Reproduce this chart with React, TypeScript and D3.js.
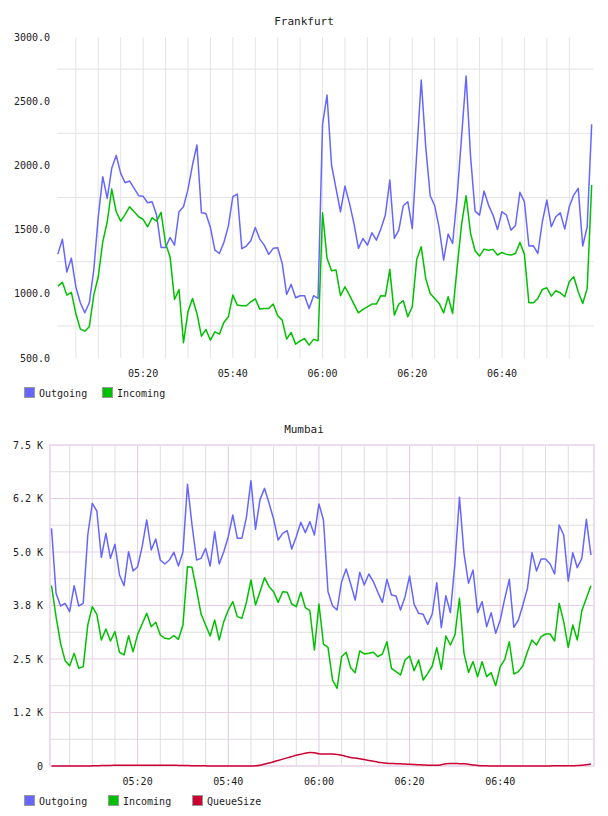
import { useEffect, useRef } from 'react';
import * as d3 from 'd3';

// One sample per minute, 05:01 .. 07:00
const frankfurtOutgoing = [
  1309, 1426, 1169, 1278, 1055, 930, 852, 930, 1185, 1600,
  1912, 1743, 1977, 2078, 1938, 1865, 1878, 1821, 1764, 1759,
  1709, 1717, 1613, 1361, 1361, 1439, 1379, 1639, 1678, 1813,
  2003, 2159, 1631, 1626, 1517, 1340, 1314, 1400, 1527, 1756,
  1777, 1351, 1372, 1413, 1517, 1426, 1379, 1307, 1354, 1359,
  1237, 995, 1073, 969, 985, 985, 886, 985, 964, 2320,
  2548, 2003, 1821, 1639, 1839, 1704, 1548, 1354, 1431, 1379,
  1476, 1418, 1504, 1613, 1886, 1431, 1496, 1686, 1717, 1509,
  2094, 2665, 2146, 1764, 1686, 1514, 1263, 1465, 1392, 1756,
  2224, 2696, 2068, 1644, 1613, 1800, 1691, 1613, 1501, 1639,
  1613, 1496, 1530, 1790, 1717, 1372, 1374, 1314, 1561, 1730,
  1522, 1600, 1631, 1504, 1678, 1769, 1821, 1372, 1522, 2320,
];

const frankfurtIncoming = [
  1060, 1089, 990, 1011, 847, 725, 709, 743, 990, 1133,
  1405, 1561, 1816, 1639, 1566, 1618, 1678, 1639, 1600, 1579,
  1522, 1592, 1566, 1634, 1392, 1289, 956, 1034, 619, 860,
  964, 847, 670, 722, 639, 704, 686, 777, 821, 990,
  912, 907, 907, 938, 961, 881, 886, 886, 920, 829,
  795, 647, 699, 608, 634, 652, 600, 645, 634, 1631,
  1276, 1180, 1185, 985, 1055, 990, 920, 852, 878, 899,
  920, 920, 985, 982, 1190, 834, 920, 946, 821, 899,
  1268, 1366, 1120, 1003, 964, 925, 852, 977, 847, 1205,
  1543, 1764, 1470, 1335, 1294, 1348, 1340, 1346, 1302, 1322,
  1307, 1302, 1314, 1400, 1309, 930, 930, 964, 1034, 1047,
  982, 1024, 1008, 977, 1094, 1133, 1016, 925, 1042, 1847,
];

const mumbaiOutgoing = [
  5553, 4034, 3738, 3801, 3606, 4213, 3738, 3801, 5397, 6137,
  5958, 4875, 5436, 4852, 5179, 4463, 4213, 5008, 4556, 4657,
  5125, 5748, 5047, 5304, 4813, 4720, 4813, 4992, 4673, 5008,
  6581, 5631, 4813, 4852, 5086, 4673, 5475, 4720, 5008, 5358,
  5864, 5319, 5319, 5810, 6667, 5530, 6230, 6487, 6137, 5771,
  5280, 5436, 5498, 5070, 5358, 5693, 5452, 5709, 5397, 6121,
  5748, 4073, 3746, 3645, 4307, 4603, 4252, 3878, 4525, 4229,
  4486, 4307, 4058, 3824, 4361, 3995, 3972, 3645, 3956, 4439,
  3777, 3567, 3544, 3310, 3551, 4283, 3232, 3980, 3583, 4735,
  6277, 4969, 4268, 4579, 3583, 3840, 3255, 3583, 3100, 3411,
  3917, 4361, 3240, 3411, 3762, 4151, 4984, 4556, 4836, 4836,
  4720, 4486, 5631, 5397, 4322, 4984, 4634, 4852, 5763, 4930,
];

const mumbaiIncoming = [
  4213, 3489, 2866, 2461, 2344, 2632, 2282, 2321, 3294, 3723,
  3544, 2944, 3201, 2921, 3139, 2656, 2594, 3045, 2671, 3076,
  3318, 3567, 3255, 3357, 3061, 2983, 2967, 3045, 2960, 3294,
  4657, 4642, 4112, 3551, 3294, 3037, 3411, 2944, 3372, 3645,
  3840, 3489, 3450, 3824, 4346, 3762, 4073, 4400, 4190, 4073,
  3824, 4073, 4058, 3785, 3723, 4058, 3699, 3629, 2710, 3785,
  2850, 2773, 2009, 1815, 2554, 2656, 2297, 2181, 2687, 2617,
  2632, 2656, 2554, 2617, 2905, 2282, 2204, 2126, 2477, 2570,
  2227, 2477, 2009, 2165, 2336, 2765, 2259, 3037, 2827, 3061,
  3917, 2632, 2188, 2438, 2087, 2438, 2087, 2181, 1877, 2321,
  2492, 2905, 2150, 2204, 2344, 2671, 2944, 2827, 3022, 3084,
  3084, 2921, 3801, 3372, 2773, 3294, 2944, 3629, 3917, 4213,
];

const mumbaiQueueSize = [
  0, 0, 0, 0, 0, 0, 0, 0, 0, 3,
  6, 9, 12, 14, 15, 16, 16, 16, 16, 16,
  16, 16, 16, 16, 16, 16, 16, 16, 14, 12,
  10, 8, 6, 4, 3, 2, 1, 0, 0, 0,
  0, 0, 0, 0, 0, 5, 20, 45, 70, 100,
  130, 160, 190, 220, 250, 275, 300, 315, 310, 285,
  280, 280, 280, 270, 250, 225, 200, 185, 170, 150,
  130, 110, 90, 75, 65, 58, 55, 50, 45, 40,
  35, 30, 25, 20, 17, 16, 30, 50, 60, 60,
  55, 55, 40, 25, 12, 6, 3, 0, 0, 0,
  0, 0, 0, 0, 0, 0, 0, 0, 0, 0,
  2, 5, 6, 6, 6, 8, 10, 18, 30, 45,
];

const frankfurtYTicks = [500, 1000, 1500, 2000, 2500, 3000];
const frankfurtYLabels = ['500.0', '1000.0', '1500.0', '2000.0', '2500.0', '3000.0'];
const mumbaiYTicks = [0, 1250, 2500, 3750, 5000, 6250, 7500];
const mumbaiYLabels = ['0', '1.2 K', '2.5 K', '3.8 K', '5.0 K', '6.2 K', '7.5 K'];

const BLUE = '#6666ff';
const GREEN = '#00c000';
const RED = '#cc0033';
const FONT = "'DejaVu Sans Mono', monospace";

const t = (h: number, m: number, s = 0) => new Date(2013, 0, 1, h, m, s);
const times = frankfurtOutgoing.map((_, i) => d3.timeMinute.offset(t(5, 1), i));
// grid marks and time labels stop before the last sample
const tickStart = t(5, 1);
const tickEnd = t(7, 0);

interface Series {
  name: string;
  values: number[];
  color: string;
  smooth?: boolean;
}

interface ChartSpec {
  id: string;
  title: string;
  titleY: number;
  left: number;
  right: number;
  top: number;
  bottom: number;
  domain: [Date, Date];
  yDomain: [number, number];
  yTicks: number[];
  yLabels: string[];
  labelX: number;
  series: Series[];
  legendY: number;
  legendX: number[];
  framed: boolean;
}

function drawChart(root: d3.Selection<SVGGElement, unknown, null, undefined>, c: ChartSpec) {
  const x = d3.scaleTime().domain(c.domain).range([c.left, c.right]);
  const y = d3.scaleLinear().domain(c.yDomain).range([c.bottom, c.top]);
  const g = root.append('g');

  g.append('text')
    .attr('x', 304).attr('y', c.titleY)
    .attr('text-anchor', 'middle')
    .attr('font-size', 11).attr('fill', '#222')
    .text(c.title);

  const fiveMin = d3.timeMinute.every(5)!.range(tickStart, tickEnd);
  const twentyMin = d3.timeMinute.every(20)!.range(tickStart, tickEnd);
  const isMajor = (d: Date) => d.getMinutes() % 20 === 0;
  const half = d3.pairs(c.yTicks).map(([a, b]) => (a + b) / 2);

  if (c.framed) {
    // minor grid: half steps and 5-minute marks
    g.selectAll('.hminor').data(half).join('line')
      .attr('x1', c.left).attr('x2', c.right)
      .attr('y1', d => y(d)).attr('y2', d => y(d))
      .attr('stroke', '#dedede');
    g.selectAll('.vminor').data(fiveMin.filter(d => !isMajor(d))).join('line')
      .attr('x1', d => x(d)).attr('x2', d => x(d))
      .attr('y1', c.top).attr('y2', c.bottom)
      .attr('stroke', '#dedede');
    g.selectAll('.hmajor').data(c.yTicks).join('line')
      .attr('x1', c.left).attr('x2', c.right)
      .attr('y1', d => y(d)).attr('y2', d => y(d))
      .attr('stroke', '#e6cfe6');
    g.selectAll('.vmajor').data(twentyMin).join('line')
      .attr('x1', d => x(d)).attr('x2', d => x(d))
      .attr('y1', c.top).attr('y2', c.bottom)
      .attr('stroke', '#e0c8e0');
    g.append('rect')
      .attr('x', c.left).attr('y', c.top)
      .attr('width', c.right - c.left).attr('height', c.bottom - c.top)
      .attr('fill', 'none').attr('stroke', '#eedcee').attr('stroke-width', 2);
  } else {
    g.selectAll('.hgrid').data(half).join('line')
      .attr('x1', c.left).attr('x2', c.right)
      .attr('y1', d => y(d)).attr('y2', d => y(d))
      .attr('stroke', '#e4e4e4');
    g.selectAll('.vgrid').data(fiveMin).join('line')
      .attr('x1', d => x(d)).attr('x2', d => x(d))
      .attr('y1', c.top).attr('y2', c.bottom)
      .attr('stroke', '#e4e4e4');
  }

  g.selectAll('.ylab').data(c.yTicks).join('text')
    .attr('x', c.labelX).attr('y', d => y(d))
    .attr('text-anchor', 'end').attr('dominant-baseline', 'central')
    .attr('font-size', 10).attr('fill', '#222')
    .text((_, i) => c.yLabels[i]);

  g.selectAll('.xlab').data(twentyMin).join('text')
    .attr('x', d => x(d)).attr('y', c.bottom + 15)
    .attr('text-anchor', 'middle').attr('dominant-baseline', 'central')
    .attr('font-size', 10).attr('fill', '#222')
    .text(d => d3.timeFormat('%H:%M')(d));

  const clipId = `clip-${c.id}`;
  g.append('clipPath').attr('id', clipId)
    .append('rect')
    .attr('x', c.left).attr('y', c.top - 1)
    .attr('width', c.right - c.left).attr('height', c.bottom - c.top + 2);

  c.series.forEach(s => {
    const line = d3.line<number>()
      .x((_, i) => x(times[i]))
      .y(d => y(d))
      .curve(s.smooth ? d3.curveMonotoneX : d3.curveLinear);
    g.append('path')
      .datum(s.values)
      .attr('clip-path', `url(#${clipId})`)
      .attr('d', line)
      .attr('fill', 'none')
      .attr('stroke', s.color)
      .attr('stroke-width', 1.5)
      .attr('stroke-linejoin', 'round');
  });

  c.series.forEach((s, i) => {
    const lx = c.legendX[i];
    g.append('rect')
      .attr('x', lx + 0.5).attr('y', c.legendY + 0.5)
      .attr('width', 10).attr('height', 10)
      .attr('fill', s.color).attr('stroke', '#999');
    g.append('text')
      .attr('x', lx + 15).attr('y', c.legendY + 6)
      .attr('dominant-baseline', 'central')
      .attr('font-size', 10).attr('fill', '#222')
      .text(s.name);
  });
}

export default function App() {
  const ref = useRef<SVGSVGElement | null>(null);

  useEffect(() => {
    const svg = d3.select(ref.current);
    svg.selectAll('*').remove();
    const root = svg.append('g').attr('font-family', FONT);

    drawChart(root, {
      id: 'fra',
      title: 'Frankfurt',
      titleY: 25,
      left: 57, right: 594, top: 37, bottom: 358,
      domain: [t(5, 0, 48), t(7, 0, 31)],
      yDomain: [500, 3000],
      yTicks: frankfurtYTicks,
      yLabels: frankfurtYLabels,
      labelX: 50,
      series: [
        { name: 'Outgoing', values: frankfurtOutgoing, color: BLUE },
        { name: 'Incoming', values: frankfurtIncoming, color: GREEN },
      ],
      legendY: 387,
      legendX: [24, 102],
      framed: false,
    });

    drawChart(root, {
      id: 'bom',
      title: 'Mumbai',
      titleY: 433,
      left: 50, right: 594, top: 445, bottom: 766,
      domain: [t(5, 0, 40), t(7, 0, 41)],
      yDomain: [0, 7500],
      yTicks: mumbaiYTicks,
      yLabels: mumbaiYLabels,
      labelX: 43,
      series: [
        { name: 'Outgoing', values: mumbaiOutgoing, color: BLUE },
        { name: 'Incoming', values: mumbaiIncoming, color: GREEN },
        { name: 'QueueSize', values: mumbaiQueueSize, color: RED, smooth: true },
      ],
      legendY: 795,
      legendX: [24, 108, 192],
      framed: true,
    });
  }, []);

  return (
    <svg
      ref={ref}
      width={608}
      height={816}
      style={{ position: 'absolute', left: 0, top: 0, background: '#fff' }}
    />
  );
}
